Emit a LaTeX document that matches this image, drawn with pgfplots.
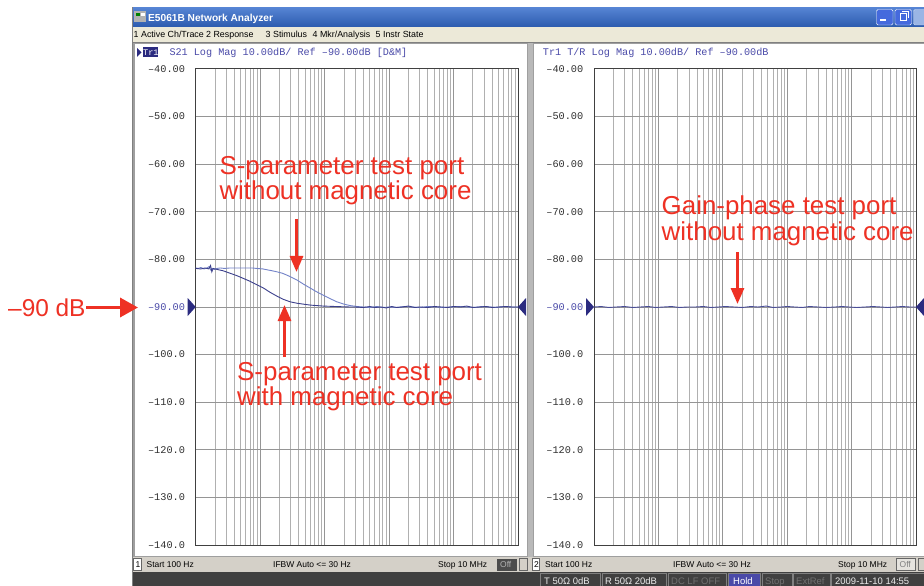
\documentclass[border=0pt]{standalone}
\usepackage{fontspec}
\setmainfont{Liberation Sans}
\setmonofont{Liberation Mono}
\usepackage{pgfplots}
\pgfplotsset{compat=1.18}
\usetikzlibrary{arrows.meta}
\definecolor{traceA}{HTML}{3B3F8C}
\definecolor{traceB}{HTML}{7282C8}
\definecolor{traceR}{HTML}{4A4E98}
\definecolor{annred}{HTML}{EE3124}
\definecolor{gridmaj}{HTML}{959595}
\definecolor{gridmin}{HTML}{B0B0B0}
\definecolor{hdrblue}{HTML}{4A4AA8}
\definecolor{navy}{HTML}{2B2B80}
\definecolor{menubg}{HTML}{ECE9D8}
\definecolor{statbg}{HTML}{D4D0C8}
\definecolor{tbtop}{HTML}{5684D4}
\definecolor{tbbot}{HTML}{2C5BAE}
\definecolor{botbar}{HTML}{404040}
\definecolor{axisgray}{HTML}{404040}
\definecolor{tickgray}{HTML}{303030}
\definecolor{framegray}{HTML}{808080}
\definecolor{dimtext}{HTML}{707070}
\newcommand\annfont{\fontsize{26}{26}\selectfont\color{annred}}
\newcommand\monofnt{\ttfamily\fontsize{10.2}{10.2}\selectfont}
\newcommand\tkfont{\ttfamily\fontsize{10.3}{10.3}\selectfont}
\newcommand\uifont{\fontsize{8.5}{9}\selectfont}
\newcommand\menufont{\fontsize{8.9}{9.5}\selectfont}
\begin{document}
\begin{tikzpicture}
\begin{scope}[x=1bp,y=-1bp]
\path[use as bounding box, fill=white] (0,0) rectangle (924,586);
% window frame
\fill[framegray] (131.5,7) rectangle (924,586);
\shade[top color=tbtop, bottom color=tbbot] (133,7.5) rectangle (924,27);
\fill[gray!60] (134,11) rectangle (146,22);
\fill[green!50!black] (135.5,13) rectangle (140,16);
\fill[white] (141,13) rectangle (145,16);
\node[anchor=base west, inner sep=0, text=white, font=\bfseries\fontsize{10.2}{11}\selectfont] at (148,21.5) {E5061B Network Analyzer};
\draw[white, fill=tbtop!80!blue, rounded corners=1.5bp] (876.5,9.5) rectangle (893,25);
\fill[white] (880,19.5) rectangle (885.5,21.5);
\draw[white, fill=tbtop!80!blue, rounded corners=1.5bp] (895,9.5) rectangle (911.5,25);
\draw[white, line width=1bp] (900,14) rectangle (906.5,20.5);
\draw[white, line width=1bp] (902,12) -- (908.5,12) -- (908.5,18);
\draw[white!70!tbtop, fill=tbtop!60!white, rounded corners=1.5bp] (913.5,9.5) rectangle (930,25);
% menu
\fill[menubg] (133,27) rectangle (924,42.5);
\node[anchor=base west, inner sep=0, font=\menufont] at (133.5,38) {1 Active Ch/Trace};
\node[anchor=base west, inner sep=0, font=\menufont] at (206,38) {2 Response};
\node[anchor=base west, inner sep=0, font=\menufont] at (265.5,38) {3 Stimulus};
\node[anchor=base west, inner sep=0, font=\menufont] at (312.5,38) {4 Mkr/Analysis};
\node[anchor=base west, inner sep=0, font=\menufont] at (375.5,38) {5 Instr State};
% panels
\fill[gray!75] (133,43) rectangle (924,557);
\fill[white] (135,44) rectangle (527,556);
\fill[white] (533.5,44) rectangle (924,556);
\fill[gray!55] (528,43) rectangle (532.5,557);
% headers
\fill[navy] (137,48) -- (141.5,52.5) -- (137,57) -- cycle;
\fill[navy] (142.5,47.5) rectangle (157.5,57);
\node[anchor=base west, inner sep=0, font=\ttfamily\fontsize{8.6}{9}\selectfont, text=white] at (143,55.5) {Tr1};
\node[anchor=base west, inner sep=0, font=\monofnt, text=hdrblue] at (169.3,55.5) {S21 Log Mag 10.00dB/ Ref –90.00dB [D\&M]};
\node[anchor=base west, inner sep=0, font=\monofnt, text=hdrblue] at (542.7,55.5) {Tr1 T/R Log Mag 10.00dB/ Ref –90.00dB};
% status bars
\fill[statbg] (133,557) rectangle (924,572);
\draw[gray!80!black, fill=white] (133.5,558.5) rectangle (141,570.5);
\node[anchor=base west, inner sep=0, font=\uifont] at (135.3,567.5) {1};
\node[anchor=base west, inner sep=0, font=\uifont] at (146.5,567.5) {Start 100 Hz};
\node[anchor=base west, inner sep=0, font=\uifont] at (273,567.5) {IFBW Auto <= 30 Hz};
\node[anchor=base west, inner sep=0, font=\uifont] at (438,567.5) {Stop 10 MHz};
\fill[gray!60!black] (497,558.5) rectangle (517,570.5);
\node[anchor=base west, inner sep=0, font=\uifont, text=gray!60] at (500,567.5) {Off};
\draw[gray!80!black] (519.5,558.5) rectangle (527,570.5);
\draw[gray!80!black, fill=white] (532,558.5) rectangle (539.5,570.5);
\node[anchor=base west, inner sep=0, font=\uifont] at (533.8,567.5) {2};
\node[anchor=base west, inner sep=0, font=\uifont] at (545,567.5) {Start 100 Hz};
\node[anchor=base west, inner sep=0, font=\uifont] at (673,567.5) {IFBW Auto <= 30 Hz};
\node[anchor=base west, inner sep=0, font=\uifont] at (838,567.5) {Stop 10 MHz};
\draw[gray!80!black, fill=statbg!60!white] (896.5,558.5) rectangle (915.5,570.5);
\node[anchor=base west, inner sep=0, font=\uifont, text=gray] at (899.5,567.5) {Off};
\draw[gray!80!black] (918,558.5) rectangle (926,570.5);
% bottom bar
\fill[botbar] (133,572) rectangle (924,586);
\draw[gray] (540,573.5) rectangle (600.5,586.5);
\node[anchor=base west, inner sep=0, font=\fontsize{9.5}{10}\selectfont, text=white!92!black] at (544,584) {T 50Ω 0dB};
\draw[gray] (602,573.5) rectangle (666.5,586.5);
\node[anchor=base west, inner sep=0, font=\fontsize{9.5}{10}\selectfont, text=white!92!black] at (605,584) {R 50Ω 20dB};
\draw[gray] (668,573.5) rectangle (726.5,586.5);
\node[anchor=base west, inner sep=0, font=\fontsize{9.5}{10}\selectfont, text=dimtext] at (671,584) {DC LF OFF};
\draw[gray, fill=hdrblue] (728,573.5) rectangle (760.5,586.5);
\node[anchor=base west, inner sep=0, font=\fontsize{9.5}{10}\selectfont, text=white] at (733,584) {Hold};
\draw[gray] (762,573.5) rectangle (792,586.5);
\node[anchor=base west, inner sep=0, font=\fontsize{9.5}{10}\selectfont, text=dimtext] at (765,584) {Stop};
\draw[gray] (793.5,573.5) rectangle (830,586.5);
\node[anchor=base west, inner sep=0, font=\fontsize{9.5}{10}\selectfont, text=dimtext] at (796,584) {ExtRef};
\draw[gray] (831.5,573.5) rectangle (930,586.5);
\node[anchor=base west, inner sep=0, font=\fontsize{9.5}{10}\selectfont, text=white!92!black] at (835,584) {2009-11-10 14:55};
\end{scope}

% ===== left axis =====
\begin{axis}[at={(195.7bp,-69bp)}, anchor=north west,
  scale only axis, width=322.3bp, height=476bp,
  xmode=log, xmin=100, xmax=10000000, ymin=-140, ymax=-40,
  xtick={100,1000,10000,100000,1000000,10000000},
  minor xtick={200,300,400,500,600,700,800,900,2000,3000,4000,5000,6000,7000,8000,9000,20000,30000,40000,50000,60000,70000,80000,90000,200000,300000,400000,500000,600000,700000,800000,900000,2000000,3000000,4000000,5000000,6000000,7000000,8000000,9000000},
  xticklabels={},
  ytick={-140,-130,-120,-110,-100,-90,-80,-70,-60,-50,-40},
  yticklabels={–140.0,–130.0,–120.0,–110.0,–100.0,{\color{hdrblue}–90.00},–80.00,–70.00,–60.00,–50.00,–40.00},
  grid=both,
  major grid style={draw=gridmaj, line width=1bp},
  minor grid style={draw=gridmin, line width=1bp},
  major tick length=0pt, minor tick length=0pt,
  axis line style={draw=axisgray, line width=1bp},
  yticklabel style={font=\tkfont, text=tickgray, inner sep=0pt, xshift=-10.5bp},
  clip=false]
\addplot[traceB, line width=0.9bp] coordinates {
(100,-81.8) (110,-81.9) (120,-81.7) (135,-82.0) (150,-81.8) (162,-81.5) (170,-82.2) (180,-81.9) (195,-82.1) (215,-81.9) (240,-81.8) (280,-81.9) (340,-81.8) (450,-81.8) (600,-81.8) (750,-81.8) (890,-81.9) (1100,-82.0) (1300,-82.2) (1550,-82.4) (1810,-82.6) (2200,-82.9) (2600,-83.3) (3100,-83.8) (3690,-84.3) (4700,-85.2) (5940,-86.0) (7500,-86.8) (9450,-87.5) (12000,-88.2) (15400,-88.9) (20000,-89.4) (24800,-89.7) (32000,-89.9) (39500,-90.0) (50000,-90.1) (65000,-89.9) (80000,-90.1) (100000,-90.0) (130000,-90.1) (170000,-89.9) (220000,-90.0) (300000,-90.1) (400000,-89.9) (550000,-90.0) (700000,-90.1) (900000,-90.0) (1200000,-89.9) (1600000,-90.0) (2100000,-90.1) (2800000,-89.9) (3600000,-90.0) (4700000,-90.1) (6000000,-89.9) (8000000,-90.0) (10000000,-90.0)};
\addplot[traceA, line width=0.9bp] coordinates {
(100,-81.9) (120,-82.0) (140,-81.8) (160,-82.0) (170,-81.3) (178,-82.6) (186,-81.9) (200,-82.0) (230,-82.2) (268,-82.4) (340,-82.9) (432,-83.4) (550,-84.0) (697,-84.6) (880,-85.3) (1120,-86.0) (1420,-86.9) (1810,-87.7) (2300,-88.4) (2900,-88.9) (3700,-89.2) (4680,-89.4) (6000,-89.6) (9450,-89.8) (15000,-89.9) (25000,-90.0) (30000,-90.0) (40000,-90.1) (50000,-89.9) (60000,-90.1) (75000,-90.0) (90000,-90.2) (110000,-89.9) (130000,-90.1) (160000,-90.0) (200000,-89.8) (250000,-90.1) (300000,-90.0) (400000,-90.1) (500000,-89.9) (650000,-90.0) (800000,-90.1) (1000000,-89.9) (1300000,-90.0) (1600000,-89.8) (2000000,-90.1) (2500000,-90.0) (3200000,-89.9) (4000000,-90.1) (5000000,-90.0) (6500000,-89.9) (8000000,-90.0) (10000000,-90.0)};
\end{axis}

% ===== right axis =====
\begin{axis}[at={(594bp,-69bp)}, anchor=north west,
  scale only axis, width=322.3bp, height=476bp,
  xmode=log, xmin=100, xmax=10000000, ymin=-140, ymax=-40,
  xtick={100,1000,10000,100000,1000000,10000000},
  minor xtick={200,300,400,500,600,700,800,900,2000,3000,4000,5000,6000,7000,8000,9000,20000,30000,40000,50000,60000,70000,80000,90000,200000,300000,400000,500000,600000,700000,800000,900000,2000000,3000000,4000000,5000000,6000000,7000000,8000000,9000000},
  xticklabels={},
  ytick={-140,-130,-120,-110,-100,-90,-80,-70,-60,-50,-40},
  yticklabels={–140.0,–130.0,–120.0,–110.0,–100.0,{\color{hdrblue}–90.00},–80.00,–70.00,–60.00,–50.00,–40.00},
  grid=both,
  major grid style={draw=gridmaj, line width=1bp},
  minor grid style={draw=gridmin, line width=1bp},
  major tick length=0pt, minor tick length=0pt,
  axis line style={draw=axisgray, line width=1bp},
  yticklabel style={font=\tkfont, text=tickgray, inner sep=0pt, xshift=-10.5bp},
  clip=false]
\addplot[traceR, line width=0.9bp] coordinates {
(100,-90.0) (130,-89.9) (170,-90.1) (220,-90.0) (300,-89.9) (400,-90.1) (520,-90.0) (700,-89.9) (900,-90.1) (1200,-90.0) (1600,-89.9) (2100,-90.1) (2800,-90.0) (3700,-90.0) (5000,-89.9) (6500,-90.1) (8500,-90.0) (11000,-89.9) (15000,-90.0) (20000,-90.1) (27000,-89.9) (35000,-90.0) (47000,-89.8) (60000,-90.1) (80000,-90.0) (100000,-89.9) (130000,-90.0) (170000,-90.1) (220000,-89.9) (300000,-90.0) (400000,-90.1) (550000,-90.0) (700000,-89.9) (900000,-90.0) (1200000,-90.1) (1600000,-90.0) (2100000,-89.9) (2800000,-90.0) (3600000,-90.1) (4700000,-90.0) (6000000,-89.9) (8000000,-90.0) (10000000,-90.0)};
\end{axis}

% ===== markers and annotations =====
\begin{scope}[x=1bp,y=-1bp]
\fill[navy] (195.7,307) -- ++(-8,9) -- ++(0,-18) -- cycle;
\fill[navy] (518,307) -- ++(8,9) -- ++(0,-18) -- cycle;
\fill[navy] (594,307) -- ++(-8,9) -- ++(0,-18) -- cycle;
\fill[navy] (916,307) -- ++(8,9) -- ++(0,-18) -- cycle;
\node[anchor=base west, inner sep=0, font=\fontsize{24.5}{25}\selectfont, text=annred] at (8,316.5) {–90 dB};
\draw[annred, line width=3.5bp, -{Triangle[length=18bp,width=19bp]}] (86,307.5) -- (138,307.5);
\node[anchor=base west, inner sep=0, font=\annfont] at (219.3,175) {S-parameter test port};
\node[anchor=base west, inner sep=0, font=\annfont] at (219.3,200) {without magnetic core};
\draw[annred, line width=3bp, -{Triangle[length=16bp,width=13bp]}] (296.5,219) -- (296.5,272);
\node[anchor=base west, inner sep=0, font=\annfont] at (237,380) {S-parameter test port};
\node[anchor=base west, inner sep=0, font=\annfont] at (237,405) {with magnetic core};
\draw[annred, line width=3bp, -{Triangle[length=16bp,width=13bp]}] (284.5,357) -- (284.5,305);
\node[anchor=base west, inner sep=0, font=\annfont] at (661.5,215) {Gain-phase test port};
\node[anchor=base west, inner sep=0, font=\annfont] at (661.5,241) {without magnetic core};
\draw[annred, line width=3bp, -{Triangle[length=16bp,width=13bp]}] (737.5,252) -- (737.5,304);
\end{scope}
\end{tikzpicture}
\end{document}
